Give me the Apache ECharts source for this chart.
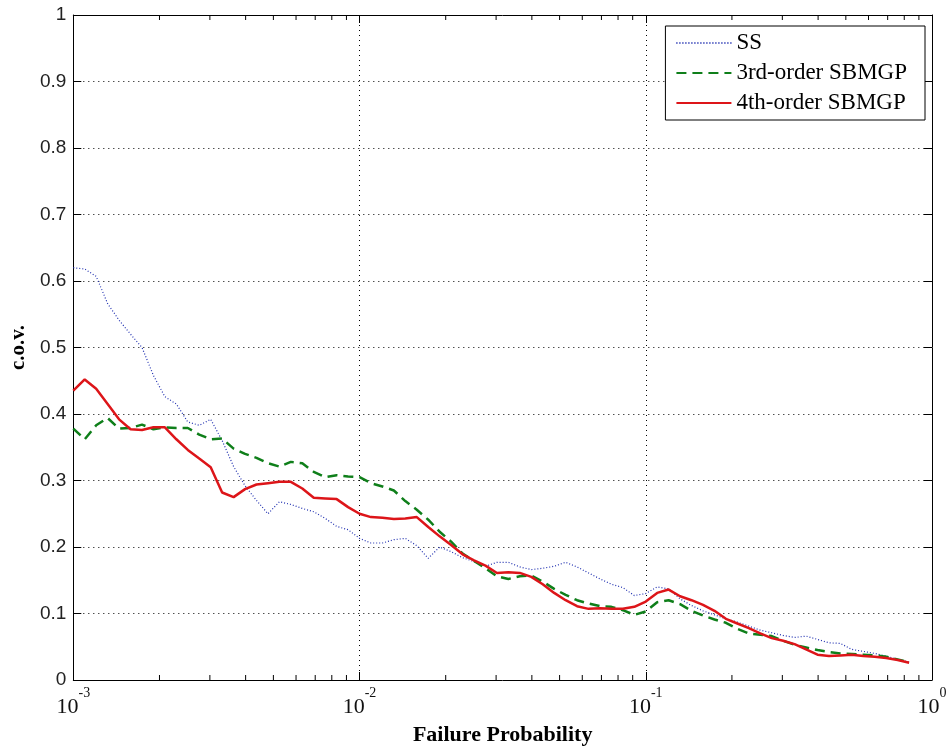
<!DOCTYPE html>
<html>
<head>
<meta charset="utf-8">
<script src="https://cdn.jsdelivr.net/npm/echarts@6/dist/echarts.min.js"></script>
<style>
html, body { margin: 0; padding: 0; background: #fff; }
#chart { width: 951px; height: 751px; }
</style>
</head>
<body>
<div id="chart"></div>
<script>
// Failure probability (log-spaced sample points)
const failureProb = [
  0.001, 0.001096, 0.001202, 0.001318, 0.001445, 0.001585, 0.001738, 0.001905, 0.002089, 0.002291,
  0.002512, 0.002754, 0.00302, 0.003311, 0.003631, 0.003981, 0.004365, 0.004786, 0.005248, 0.005754,
  0.00631, 0.006918, 0.007586, 0.008318, 0.00912,
  0.01, 0.01096, 0.01202, 0.01318, 0.01445, 0.01585, 0.01738, 0.01905, 0.02089, 0.02291,
  0.02512, 0.02754, 0.0302, 0.03311, 0.03631, 0.03981, 0.04365, 0.04786, 0.05248, 0.05754,
  0.0631, 0.06918, 0.07586, 0.08318, 0.0912,
  0.1, 0.1096, 0.1202, 0.1318, 0.1445, 0.1585, 0.1738, 0.1905, 0.2089, 0.2291,
  0.2512, 0.2754, 0.302, 0.3311, 0.3631, 0.3981, 0.4365, 0.4786, 0.5248, 0.5754,
  0.631, 0.6918, 0.7586, 0.8318
];

// Coefficient of variation: Subset Simulation
const ssCov = [
  0.62, 0.618, 0.607, 0.566, 0.541, 0.52, 0.5, 0.458, 0.426, 0.415,
  0.388, 0.383, 0.392, 0.36, 0.321, 0.292, 0.27, 0.25, 0.268, 0.264,
  0.258, 0.253, 0.243, 0.231, 0.226, 0.213, 0.206, 0.206, 0.211, 0.213,
  0.202, 0.183, 0.2, 0.193, 0.184, 0.178, 0.171, 0.177, 0.177, 0.17,
  0.166, 0.168, 0.171, 0.177, 0.17, 0.161, 0.152, 0.144, 0.139, 0.127,
  0.13, 0.14, 0.137, 0.122, 0.112, 0.104, 0.098, 0.092, 0.087, 0.081,
  0.075, 0.071, 0.067, 0.064, 0.066, 0.061, 0.056, 0.055, 0.046, 0.043,
  0.04, 0.036, 0.031, 0.027
];

// Coefficient of variation: 3rd-order SBMGP
const sbmgp3Cov = [
  0.378, 0.362, 0.383, 0.394, 0.378, 0.379, 0.384, 0.377, 0.38, 0.379,
  0.379, 0.369, 0.362, 0.363, 0.348, 0.34, 0.334, 0.326, 0.321, 0.328,
  0.326, 0.313, 0.305, 0.308, 0.306, 0.305, 0.296, 0.291, 0.285, 0.269,
  0.256, 0.241, 0.223, 0.208, 0.19, 0.179, 0.168, 0.156, 0.152, 0.156,
  0.157, 0.148, 0.137, 0.128, 0.12, 0.115, 0.111, 0.11, 0.105, 0.098,
  0.103, 0.117, 0.12, 0.114, 0.104, 0.097, 0.091, 0.086, 0.077, 0.07,
  0.068, 0.066, 0.059, 0.053, 0.049, 0.045, 0.042, 0.04, 0.039, 0.038,
  0.037, 0.035, 0.031, 0.027
];

// Coefficient of variation: 4th-order SBMGP
const sbmgp4Cov = [
  0.435, 0.452, 0.438, 0.415, 0.392, 0.377, 0.376, 0.38, 0.38, 0.362,
  0.346, 0.333, 0.32, 0.282, 0.275, 0.287, 0.294, 0.296, 0.298, 0.298,
  0.288, 0.274, 0.273, 0.272, 0.26, 0.25, 0.245, 0.244, 0.242, 0.243,
  0.245, 0.23, 0.216, 0.203, 0.189, 0.18, 0.172, 0.161, 0.162, 0.161,
  0.155, 0.144, 0.131, 0.12, 0.111, 0.107, 0.108, 0.107, 0.107, 0.11,
  0.118, 0.131, 0.136, 0.126, 0.12, 0.113, 0.104, 0.092, 0.085, 0.078,
  0.07, 0.063, 0.059, 0.054, 0.046, 0.038, 0.036, 0.037, 0.038, 0.036,
  0.035, 0.033, 0.03, 0.026
];

const seriesNames = ['SS', '3rd-order SBMGP', '4th-order SBMGP'];
const xDecades = [0.001, 0.01, 0.1];          // decades that get 2..9 minor ticks
const yTickLabels = ['0', '0.1', '0.2', '0.3', '0.4', '0.5', '0.6', '0.7', '0.8', '0.9', '1'];

const pairs = (ys) => failureProb.map((p, i) => [p, ys[i]]);

const minorTickValues = [];
xDecades.forEach(d => { for (let m = 2; m <= 9; m++) minorTickValues.push(+(m * d).toPrecision(3)); });

const serif = 'Liberation Serif';
const sans = 'Liberation Sans';

const chart = echarts.init(document.getElementById('chart'), null, { renderer: 'canvas' });

const gridLine = { show: true, lineStyle: { color: '#000', type: [1, 4], width: 1 } };

chart.setOption({
  backgroundColor: '#fff',
  animation: false,
  grid: { left: 72, right: 19, top: 15, bottom: 71, containLabel: false },
  legend: {
    data: seriesNames,
    orient: 'vertical',
    right: 26,
    top: 26,
    backgroundColor: '#fff',
    borderColor: '#000',
    borderWidth: 1,
    borderRadius: 0,
    padding: [5, 18, 5, 10],
    itemWidth: 55,
    itemHeight: 14,
    itemGap: 6,
    itemStyle: { opacity: 0 },
    textStyle: { fontFamily: serif, fontSize: 23, color: '#000', lineHeight: 24 }
  },
  xAxis: [
    {
      type: 'log', logBase: 10, min: 0.001, max: 1,
      position: 'bottom',
      name: 'Failure Probability',
      nameLocation: 'middle',
      nameGap: 44,
      nameTextStyle: { fontFamily: serif, fontSize: 22, fontWeight: 'bold', color: '#000' },
      axisLine: { show: true, onZero: false, lineStyle: { color: '#000', width: 1 } },
      axisTick: { show: true, inside: true, length: 8, lineStyle: { color: '#000' } },
      splitLine: gridLine,
      axisLabel: {
        margin: 6,
        formatter: (v) => {
          const e = Math.round(Math.log10(v));
          return '{b|10}{s|' + (e < 0 ? '-' + (-e) : String(e)) + '}';
        },
        rich: {
          b: { fontFamily: serif, fontSize: 22, color: '#111', verticalAlign: 'bottom', lineHeight: 32 },
          s: { fontFamily: serif, fontSize: 14, color: '#111', verticalAlign: 'top', lineHeight: 32 }
        }
      }
    },
    {
      type: 'log', logBase: 10, min: 0.001, max: 1,
      position: 'top',
      axisLine: { show: true, onZero: false, lineStyle: { color: '#000', width: 1 } },
      axisTick: { show: true, inside: true, length: 8, lineStyle: { color: '#000' } },
      axisLabel: { show: false },
      splitLine: { show: false }
    }
  ],
  yAxis: [
    {
      type: 'value', min: 0, max: 1, interval: 0.1,
      position: 'left',
      name: 'c.o.v.',
      nameLocation: 'middle',
      nameGap: 42,
      nameTextStyle: { fontFamily: serif, fontSize: 21, fontWeight: 'bold', color: '#000' },
      axisLine: { show: true, onZero: false, lineStyle: { color: '#000', width: 1 } },
      axisTick: { show: true, inside: true, length: 8, lineStyle: { color: '#000' } },
      splitLine: gridLine,
      axisLabel: {
        margin: 7,
        fontFamily: sans, fontSize: 19, color: '#222',
        formatter: (v) => yTickLabels[Math.round(v * 10)]
      }
    },
    {
      type: 'value', min: 0, max: 1, interval: 0.1,
      position: 'right',
      axisLine: { show: true, onZero: false, lineStyle: { color: '#000', width: 1 } },
      axisTick: { show: true, inside: true, length: 8, lineStyle: { color: '#000' } },
      axisLabel: { show: false },
      splitLine: { show: false }
    }
  ],
  series: [
    {
      name: 'SS', type: 'line', xAxisIndex: 0, yAxisIndex: 0,
      data: pairs(ssCov),
      showSymbol: false, symbol: 'none',
      lineStyle: { color: '#1f2fb0', width: 1.2, type: [1, 2] },
      itemStyle: { color: '#1f2fb0' },
      z: 3
    },
    {
      name: '3rd-order SBMGP', type: 'line', xAxisIndex: 0, yAxisIndex: 0,
      data: pairs(sbmgp3Cov),
      showSymbol: false, symbol: 'none',
      lineStyle: { color: '#0f7f1a', width: 2.5, type: [10, 6] },
      itemStyle: { color: '#0f7f1a' },
      z: 4
    },
    {
      name: '4th-order SBMGP', type: 'line', xAxisIndex: 0, yAxisIndex: 0,
      data: pairs(sbmgp4Cov),
      showSymbol: false, symbol: 'none',
      lineStyle: { color: '#dd1519', width: 2.5 },
      itemStyle: { color: '#dd1519' },
      z: 5
    },
    {
      // minor ticks (2..9 within each decade) on the bottom and top axes
      type: 'custom', xAxisIndex: 0, yAxisIndex: 0,
      silent: true, clip: false, z: 6,
      data: minorTickValues.map(v => [v, 0]),
      encode: { x: 0, y: 1 },
      renderItem: (params, api) => {
        const v = api.value(0);
        const b = api.coord([v, 0]);
        const t = api.coord([v, 1]);
        return {
          type: 'group',
          children: [
            { type: 'line', shape: { x1: b[0], y1: b[1], x2: b[0], y2: b[1] - 5 }, style: { stroke: '#000', lineWidth: 1 } },
            { type: 'line', shape: { x1: t[0], y1: t[1], x2: t[0], y2: t[1] + 5 }, style: { stroke: '#000', lineWidth: 1 } }
          ]
        };
      }
    }
  ]
});
</script>
</body>
</html>
